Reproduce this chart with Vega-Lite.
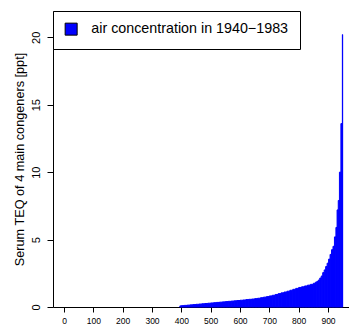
{
  "$schema": "https://vega.github.io/schema/vega-lite/v6.json",
  "autosize": {"type": "none"},
  "width": 296,
  "height": 296,
  "padding": {"left": 53, "top": 11, "right": 0, "bottom": 22},
  "background": "white",
  "config": {
    "view": {"stroke": null},
    "font": "Liberation Sans",
    "axis": {"grid": false, "domainColor": "black", "tickColor": "black", "labelColor": "black", "titleColor": "black", "titleFontWeight": "normal", "labelFont": "Liberation Sans", "titleFont": "Liberation Sans"}
  },
  "data": {"values": [
    {"a":395,"b":400,"v":0.08},{"a":400,"b":410,"v":0.1},{"a":410,"b":420,"v":0.12},{"a":420,"b":430,"v":0.14},
    {"a":430,"b":440,"v":0.16},{"a":440,"b":450,"v":0.18},{"a":450,"b":460,"v":0.2},{"a":460,"b":470,"v":0.22},
    {"a":470,"b":480,"v":0.24},{"a":480,"b":490,"v":0.26},{"a":490,"b":500,"v":0.28},{"a":500,"b":510,"v":0.3},
    {"a":510,"b":520,"v":0.32},{"a":520,"b":530,"v":0.34},{"a":530,"b":540,"v":0.36},{"a":540,"b":550,"v":0.38},
    {"a":550,"b":560,"v":0.4},{"a":560,"b":570,"v":0.42},{"a":570,"b":580,"v":0.44},{"a":580,"b":590,"v":0.46},
    {"a":590,"b":600,"v":0.48},{"a":600,"b":610,"v":0.5},{"a":610,"b":620,"v":0.52},{"a":620,"b":630,"v":0.55},
    {"a":630,"b":640,"v":0.57},{"a":640,"b":650,"v":0.59},{"a":650,"b":660,"v":0.62},{"a":660,"b":670,"v":0.65},
    {"a":670,"b":680,"v":0.69},{"a":680,"b":690,"v":0.73},{"a":690,"b":700,"v":0.77},{"a":700,"b":710,"v":0.82},
    {"a":710,"b":720,"v":0.87},{"a":720,"b":730,"v":0.93},{"a":730,"b":740,"v":0.99},{"a":740,"b":750,"v":1.05},
    {"a":750,"b":760,"v":1.11},{"a":760,"b":770,"v":1.17},{"a":770,"b":780,"v":1.24},{"a":780,"b":790,"v":1.31},
    {"a":790,"b":800,"v":1.38},{"a":800,"b":810,"v":1.45},{"a":810,"b":820,"v":1.5},{"a":820,"b":830,"v":1.56},
    {"a":830,"b":840,"v":1.62},{"a":840,"b":850,"v":1.68},{"a":850,"b":857,"v":1.76},{"a":857,"b":862,"v":1.84},
    {"a":862,"b":867,"v":1.9},{"a":867,"b":872,"v":2.0},{"a":872,"b":877,"v":2.15},{"a":877,"b":882,"v":2.3},
    {"a":882,"b":887,"v":2.55},{"a":887,"b":892,"v":2.75},{"a":892,"b":897,"v":3.0},{"a":897,"b":902,"v":3.25},
    {"a":902,"b":907,"v":3.55},{"a":907,"b":912,"v":3.9},{"a":912,"b":917,"v":4.25},{"a":917,"b":922,"v":4.5},
    {"a":922,"b":927,"v":5.2},{"a":927,"b":931,"v":5.9},{"a":931,"b":935,"v":7.2},{"a":935,"b":939,"v":7.9},
    {"a":939,"b":944,"v":10.0},{"a":944,"b":949,"v":13.6},{"a":949,"b":950,"v":20.2}
  ]},
  "mark": {"type": "bar", "stroke": "#0000ff", "strokeWidth": 1},
  "encoding": {
    "x": {"field": "a", "type": "quantitative",
          "scale": {"domain": [-37.5, 971.6], "nice": false, "zero": false},
          "axis": {"title": null, "values": [0,100,200,300,400,500,600,700,800,900], "tickSize": 5, "labelFontSize": 8.5, "labelPadding": 4, "labelFlush": false}},
    "x2": {"field": "b"},
    "y": {"field": "v", "type": "quantitative",
          "scale": {"domain": [0, 21.95], "nice": false},
          "axis": {"title": "Serum TEQ of 4 main congeners [ppt]", "values": [0,5,10,15,20], "tickSize": 6,
                   "labelAngle": -90, "labelFontSize": 11, "labelPadding": 6, "labelFlush": false,
                   "titleFontSize": 12.7, "titlePadding": 4}},
    "y2": {"datum": 0},
    "color": {"datum": "air concentration in 1940\u22121983", "type": "nominal",
              "scale": {"range": ["#0000ff"]},
              "legend": {"title": null, "orient": "none", "legendX": 0, "legendY": 0,
                         "fillColor": "white", "strokeColor": "black", "padding": 11,
                         "symbolType": "square", "symbolSize": 144, "symbolStrokeColor": "black", "symbolStrokeWidth": 1,
                         "labelFontSize": 14.3, "labelOffset": 13, "labelLimit": 400, "labelFont": "Liberation Sans", "labelColor": "black",
                         "encode": {"symbols": {"update": {"stroke": {"value": "black"}, "strokeWidth": {"value": 1}}}}}}
  }
}
